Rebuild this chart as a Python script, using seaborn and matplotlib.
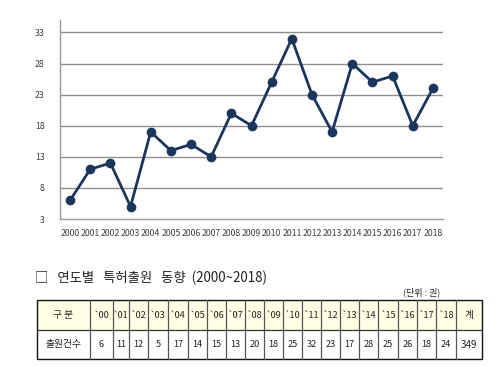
import numpy as np
import pandas as pd
import matplotlib
matplotlib.use("Agg")
import matplotlib.pyplot as plt
import seaborn as sns

years = [2000, 2001, 2002, 2003, 2004, 2005, 2006, 2007, 2008, 2009,
         2010, 2011, 2012, 2013, 2014, 2015, 2016, 2017, 2018]
counts = [6, 11, 12, 5, 17, 14, 15, 13, 20, 18, 25, 32, 23, 17, 28, 25, 26, 18, 24]
y_ticks = [3, 8, 13, 18, 23, 28, 33]
title_text = "□   연도별   특허출원   동향  (2000~2018)"
unit_text = "(단위 : 권)"
header_first = "구 분"
row_label = "출원건수"
total_label = "계"

sns.set_theme(style="white")
plt.rcParams['font.family'] = ['Noto Sans CJK KR', 'DejaVu Sans']

W, H = 500, 367
fig = plt.figure(figsize=(W / 100, H / 100), dpi=100)

# ---- line chart ----
ax = fig.add_axes([60 / W, 1 - 219 / H, (443 - 60) / W, (219 - 20) / H])
df = pd.DataFrame({"pos": np.arange(len(years)), "count": counts})
line_color = "#1B365D"
sns.lineplot(data=df, x="pos", y="count", ax=ax, color=line_color, linewidth=2.0,
             marker="o", markersize=7, markeredgewidth=0, zorder=5)
ax.set_xlim(-0.5, len(years) - 0.5)
ax.set_ylim(3, 35)
ax.set_yticks(y_ticks)
ax.set_yticklabels([str(v) for v in y_ticks])
ax.set_xticks(np.arange(len(years)))
ax.set_xticklabels([str(y) for y in years])
ax.set_xticks(np.arange(len(years) + 1) - 0.5, minor=True)
ax.tick_params(axis="x", which="major", length=0, labelsize=6.3, colors="#404040", pad=7)
ax.tick_params(axis="x", which="minor", length=4, width=0.8, color="#888888", direction="out")
ax.tick_params(axis="y", which="major", length=0, labelsize=6.3, colors="#404040", pad=11)
ax.set_xlabel("")
ax.set_ylabel("")
for v in y_ticks[1:]:
    ax.axhline(v, color="#8f8f8f", linewidth=1.0, zorder=1)
for s in ["top", "right"]:
    ax.spines[s].set_visible(False)
ax.spines["left"].set_color("#9a9a9a")
ax.spines["bottom"].set_color("#9a9a9a")
ax.spines["left"].set_linewidth(1.0)
ax.spines["bottom"].set_linewidth(1.0)
ax.grid(False)

# ---- table ----
tx = fig.add_axes([0, 0, 1, 1])
tx.set_xlim(0, W)
tx.set_ylim(H, 0)
tx.axis("off")

tx.text(35, 278, title_text, fontsize=9.6, ha="left", va="center", color="#222222")
tx.text(403, 292, unit_text, fontsize=6.5, ha="left", va="center", color="#222222")

col_edges = [37, 90, 113, 129, 148, 168, 188, 207, 226, 245, 264, 283, 302,
             321, 340, 359, 378, 398, 417, 436, 456, 482]
row_edges = [300, 330, 359]

headers = [header_first] + ["`" + str(y)[2:] for y in years] + [total_label]
values = [row_label] + [str(c) for c in counts] + [str(sum(counts))]

tx.add_patch(plt.Rectangle((col_edges[0], row_edges[0]), col_edges[-1] - col_edges[0],
                           row_edges[1] - row_edges[0], facecolor="#FFFFE3", edgecolor="none"))
for xe in col_edges[1:-1]:
    tx.plot([xe, xe], [row_edges[0], row_edges[2]], color="#555555", linewidth=0.9)
tx.plot([col_edges[0], col_edges[-1]], [row_edges[1], row_edges[1]], color="#333333", linewidth=0.9)
tx.add_patch(plt.Rectangle((col_edges[0], row_edges[0]), col_edges[-1] - col_edges[0],
                           row_edges[2] - row_edges[0], facecolor="none", edgecolor="#111111",
                           linewidth=1.0))
for i in range(len(headers)):
    cx = (col_edges[i] + col_edges[i + 1]) / 2
    fs = 7 if i in (0, len(headers) - 1) else 6.6
    tx.text(cx, (row_edges[0] + row_edges[1]) / 2, headers[i], fontsize=fs,
            ha="center", va="center", color="#222222")
    tx.text(cx, (row_edges[1] + row_edges[2]) / 2, values[i], fontsize=fs,
            ha="center", va="center", color="#222222")

fig.savefig("out.png", dpi=100)
